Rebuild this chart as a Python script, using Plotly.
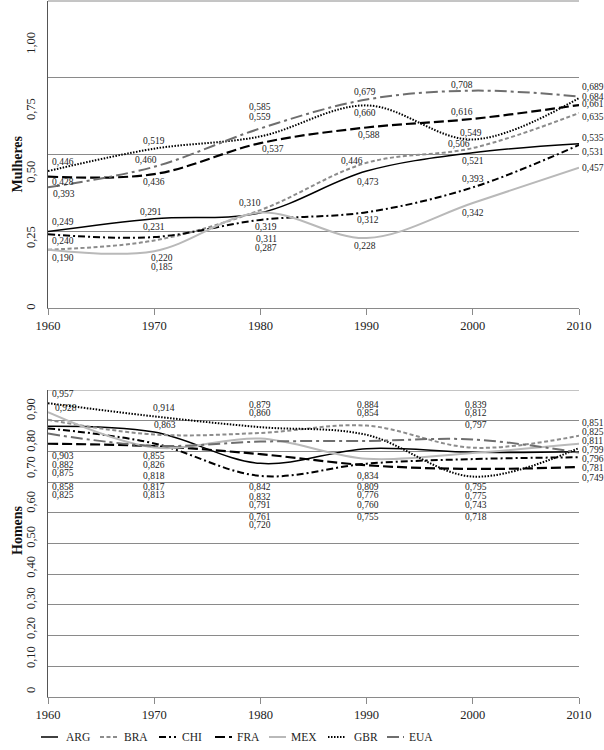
import plotly.graph_objects as go

# ---------------- data ----------------
years = [1960, 1970, 1980, 1990, 2000, 2010]
countries = ["ARG", "BRA", "CHI", "FRA", "MEX", "GBR", "EUA"]

women_ARG = [0.249, 0.291, 0.310, 0.446, 0.506, 0.535]
women_BRA = [0.190, 0.220, 0.319, 0.473, 0.521, 0.635]
women_CHI = [0.240, 0.231, 0.287, 0.312, 0.393, 0.531]
women_FRA = [0.428, 0.436, 0.537, 0.588, 0.616, 0.661]
women_MEX = [0.190, 0.185, 0.311, 0.228, 0.342, 0.457]
women_GBR = [0.446, 0.519, 0.559, 0.660, 0.549, 0.684]
women_EUA = [0.393, 0.460, 0.585, 0.679, 0.708, 0.689]

men_ARG = [0.882, 0.863, 0.761, 0.809, 0.797, 0.799]
men_BRA = [0.903, 0.855, 0.860, 0.884, 0.812, 0.851]
men_CHI = [0.875, 0.826, 0.720, 0.760, 0.775, 0.781]
men_FRA = [0.825, 0.817, 0.791, 0.755, 0.743, 0.749]
men_MEX = [0.928, 0.813, 0.842, 0.776, 0.795, 0.825]
men_GBR = [0.957, 0.914, 0.879, 0.854, 0.718, 0.811]
men_EUA = [0.858, 0.818, 0.832, 0.834, 0.839, 0.796]

women = {"ARG": women_ARG, "BRA": women_BRA, "CHI": women_CHI, "FRA": women_FRA,
         "MEX": women_MEX, "GBR": women_GBR, "EUA": women_EUA}
men = {"ARG": men_ARG, "BRA": men_BRA, "CHI": men_CHI, "FRA": men_FRA,
       "MEX": men_MEX, "GBR": men_GBR, "EUA": men_EUA}

women_grid = [0, 0.25, 0.5, 0.75, 1.0]
women_ticktext = ["0", "0,25", "0,50", "0,75", "1,00"]
men_grid = [0, 0.1, 0.2, 0.3, 0.4, 0.5, 0.6, 0.7, 0.8, 0.9, 1.0]
men_ticktext = ["0", "0,10", "0,20", "0,30", "0,40", "0,50", "0,60", "0,70", "0,80", "0,90", "1,00"]

# ---------------- styles / layout positions ----------------
styles = {
    "ARG": dict(color="#000000", width=1.5, dash="solid"),
    "BRA": dict(color="#8c8c8c", width=2.0, dash="4px,2.5px"),
    "CHI": dict(color="#000000", width=2.0, dash="7px,3px,2px,3px"),
    "FRA": dict(color="#000000", width=2.2, dash="10px,4px"),
    "MEX": dict(color="#b9b9b9", width=2.0, dash="solid"),
    "GBR": dict(color="#000000", width=2.0, dash="1.5px,1.5px"),
    "EUA": dict(color="#6e6e6e", width=2.0, dash="12px,4px,3px,4px"),
}

# tick label positions (axis units) as placed in the original
women_tick_pos = [0.004, 0.231, 0.444, 0.648, 0.864]
men_tick_pos = [0.023, 0.130, 0.225, 0.322, 0.424, 0.522, 0.636, 0.749, 0.835, 0.938, 1.023]

# data-label placement: (country, label y in axis units, xshift px)
women_labels = {
    1960: [("GBR", 0.475, 2), ("FRA", 0.411, 2), ("EUA", 0.371, 3), ("ARG", 0.281, 2),
           ("CHI", 0.219, 2), ("MEX", 0.164, 2)],
    1970: [("GBR", 0.544, 0), ("EUA", 0.481, -8), ("FRA", 0.409, 0), ("ARG", 0.313, -3),
           ("CHI", 0.263, 0), ("BRA", 0.164, 8), ("MEX", 0.133, 8)],
    1980: [("EUA", 0.654, 0), ("GBR", 0.623, 0), ("FRA", 0.519, 13), ("ARG", 0.342, -10),
           ("BRA", 0.264, 6), ("MEX", 0.225, 6), ("CHI", 0.195, 6)],
    1990: [("EUA", 0.705, -2), ("GBR", 0.634, -2), ("FRA", 0.563, 2), ("ARG", 0.480, -15),
           ("BRA", 0.411, 1), ("CHI", 0.287, 1), ("MEX", 0.202, -2)],
    2000: [("EUA", 0.726, -11), ("FRA", 0.637, -11), ("GBR", 0.571, -2), ("ARG", 0.533, -14),
           ("BRA", 0.478, 0), ("CHI", 0.419, 0), ("MEX", 0.310, 0)],
    2010: [("EUA", 0.719, 1), ("GBR", 0.688, 1), ("FRA", 0.664, 1), ("BRA", 0.621, 1),
           ("ARG", 0.553, 1), ("CHI", 0.509, 1), ("MEX", 0.455, 1)],
}
men_labels = {
    1960: [("GBR", 0.987, 2), ("MEX", 0.942, 5), ("BRA", 0.785, 2), ("ARG", 0.756, 2),
           ("CHI", 0.731, 2), ("EUA", 0.685, 2), ("FRA", 0.658, 2)],
    1970: [("GBR", 0.942, 10), ("ARG", 0.886, 11), ("BRA", 0.785, 0), ("CHI", 0.756, 0),
           ("EUA", 0.721, 0), ("FRA", 0.685, 0), ("MEX", 0.658, 0)],
    1980: [("GBR", 0.951, 0), ("BRA", 0.924, 0), ("MEX", 0.685, 0), ("EUA", 0.652, 0),
           ("FRA", 0.625, 0), ("ARG", 0.587, 0), ("CHI", 0.560, 0)],
    1990: [("BRA", 0.951, 1), ("GBR", 0.924, 1), ("EUA", 0.720, 1), ("ARG", 0.685, 1),
           ("MEX", 0.658, 1), ("CHI", 0.625, 1), ("FRA", 0.587, 1)],
    2000: [("EUA", 0.951, 3), ("BRA", 0.924, 3), ("ARG", 0.886, 3), ("MEX", 0.685, 3),
           ("CHI", 0.655, 3), ("FRA", 0.625, 3), ("GBR", 0.587, 3)],
    2010: [("BRA", 0.893, 1), ("MEX", 0.864, 1), ("GBR", 0.835, 1), ("ARG", 0.805, 1),
           ("EUA", 0.774, 1), ("CHI", 0.745, 1), ("FRA", 0.712, 1)],
}

# legend layout in pixels
legend_line_x = [41, 100, 159, 215, 269, 328, 387]
legend_text_x = [64, 122, 180, 235, 289, 352, 407]
legend_y_px = 737

W, H = 604, 750
ML, MR, MT, MB = 48, 25, 1, 53
PW = W - ML - MR
PH = H - MT - MB


def px_x(px):
    return (px - ML) / PW


def px_y(py):
    return (H - MB - py) / PH


SERIF = "Liberation Serif, Times New Roman, serif"

fig = go.Figure()

for c in countries:
    st = styles[c]
    fig.add_trace(go.Scatter(x=years, y=women[c], mode="lines", name=c,
                             line=dict(color=st["color"], width=st["width"], dash=st["dash"],
                                       shape="spline", smoothing=1.0),
                             xaxis="x", yaxis="y", showlegend=False, hoverinfo="skip"))
    fig.add_trace(go.Scatter(x=years, y=men[c], mode="lines", name=c,
                             line=dict(color=st["color"], width=st["width"], dash=st["dash"],
                                       shape="spline", smoothing=1.0),
                             xaxis="x2", yaxis="y2", showlegend=False, hoverinfo="skip"))

annotations = []


def fmt(v):
    return f"{v:.3f}".replace(".", ",")


for labels, data, yref, xref in ((women_labels, women, "y", "x"), (men_labels, men, "y2", "x2")):
    for yr, items in labels.items():
        idx = years.index(yr)
        anchor = "left" if yr in (years[0], years[-1]) else "center"
        for c, ly, xs in items:
            annotations.append(dict(x=yr, y=ly, xref=xref, yref=yref, text=fmt(data[c][idx]),
                                    showarrow=False, xanchor=anchor, yanchor="middle",
                                    xshift=xs, font=dict(family=SERIF, size=9.5, color="#222")))

# y tick labels (rotated)
for pos, txt in zip(women_tick_pos, women_ticktext):
    annotations.append(dict(x=px_x(31), y=pos, xref="paper", yref="y", text=txt, textangle=-90,
                            showarrow=False, xanchor="center", yanchor="middle",
                            font=dict(family=SERIF, size=12.5, color="#222")))
for pos, txt in zip(men_tick_pos, men_ticktext):
    annotations.append(dict(x=px_x(31), y=pos, xref="paper", yref="y2", text=txt, textangle=-90,
                            showarrow=False, xanchor="center", yanchor="middle",
                            font=dict(family=SERIF, size=12.5, color="#222")))

# axis titles
annotations.append(dict(x=px_x(7.5), y=px_y(134), xref="paper", yref="paper", text="<b>Mulheres</b>",
                        textangle=-90, showarrow=False, font=dict(family=SERIF, size=14, color="#111")))
annotations.append(dict(x=px_x(7.5), y=px_y(557), xref="paper", yref="paper", text="<b>Homens</b>",
                        textangle=-90, showarrow=False, font=dict(family=SERIF, size=14, color="#111")))

shapes = []
# top-edge gridlines (1,00), which plotly omits at the plot edge
shapes.append(dict(type="line", xref="paper", yref="paper", x0=0, x1=1, y0=px_y(1.0), y1=px_y(1.0),
                   layer="below", line=dict(color="#8a8a8a", width=1)))
shapes.append(dict(type="line", xref="paper", yref="y2", x0=0, x1=1, y0=1.0, y1=1.0,
                   layer="below", line=dict(color="#8a8a8a", width=1)))

# manual legend
for c, lx, tx in zip(countries, legend_line_x, legend_text_x):
    st = styles[c]
    shapes.append(dict(type="line", xref="paper", yref="paper",
                       x0=px_x(lx), x1=px_x(lx + 17), y0=px_y(legend_y_px), y1=px_y(legend_y_px),
                       line=dict(color=st["color"], width=st["width"], dash=st["dash"])))
    annotations.append(dict(x=px_x(tx), y=px_y(legend_y_px), xref="paper", yref="paper", text=c,
                            showarrow=False, xanchor="left", yanchor="middle",
                            font=dict(family=SERIF, size=11.5, color="#222")))

xaxis_common = dict(range=[1960, 2010], tickvals=years, showgrid=False, zeroline=False,
                    showline=True, linecolor="#8a8a8a", linewidth=1, ticks="outside",
                    ticklen=6, tickcolor="#8a8a8a", tickfont=dict(family=SERIF, size=12.5, color="#222"))
yaxis_common = dict(range=[0, 1.0], showticklabels=False, zeroline=False, showline=True,
                    linecolor="#555", linewidth=1, showgrid=True, gridcolor="#8a8a8a", gridwidth=1,
                    ticks="")

fig.update_layout(
    width=W, height=H,
    margin=dict(l=ML, r=MR, t=MT, b=MB),
    paper_bgcolor="white", plot_bgcolor="white",
    showlegend=False,
    xaxis=dict(domain=[0, 1], anchor="y", **xaxis_common),
    yaxis=dict(domain=[1 - 307 / PH, 1], anchor="x", tickvals=women_grid, **yaxis_common),
    xaxis2=dict(domain=[0, 1], anchor="y2", **xaxis_common),
    yaxis2=dict(domain=[0, 307 / PH], anchor="x2", tickvals=men_grid, **yaxis_common),
    annotations=annotations,
    shapes=shapes,
    font=dict(family=SERIF),
)

fig.write_html("out.html", config={"displayModeBar": False},
               post_script="document.body.style.margin='0px';document.body.style.overflow='hidden';")
